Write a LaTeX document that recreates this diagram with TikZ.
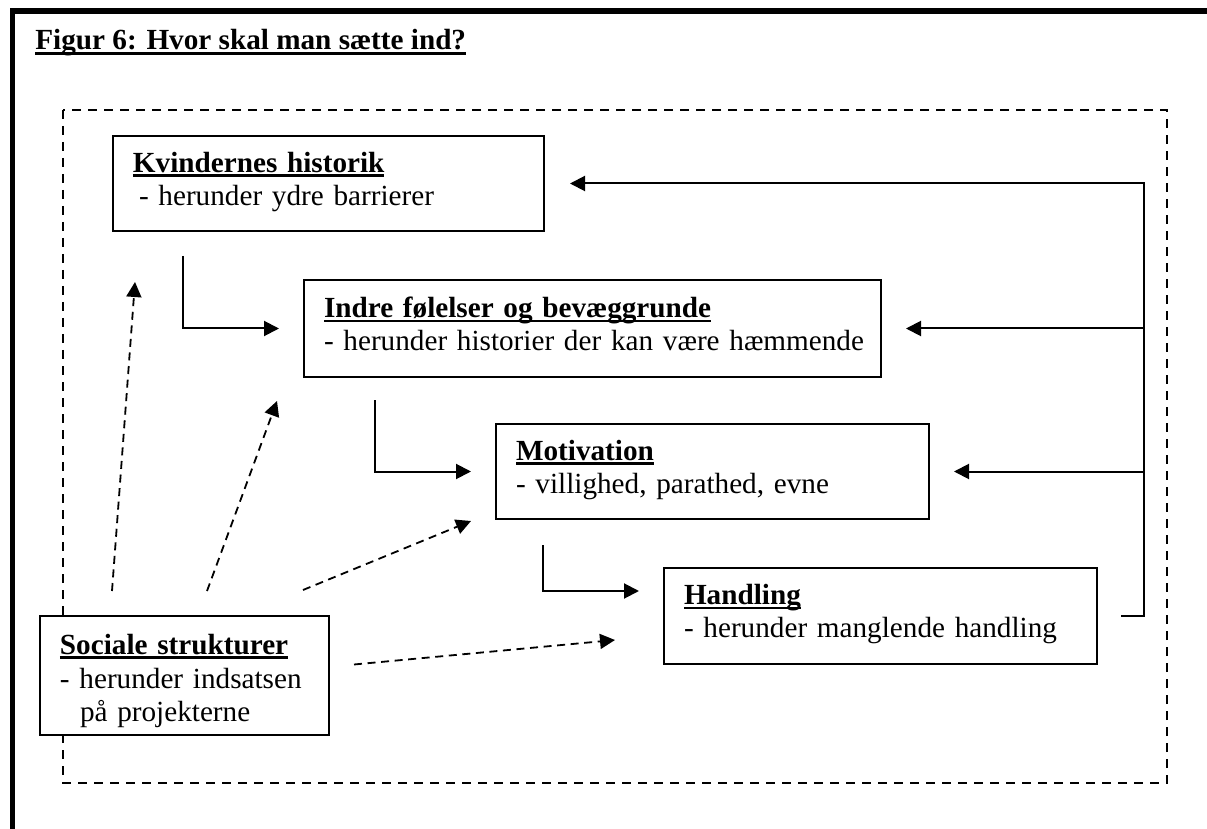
\documentclass[tikz,border=0pt]{standalone}
\usepackage{fontspec}
\setmainfont{Liberation Serif}
\usetikzlibrary{arrows.meta}

\newcommand{\hdr}[1]{\setbox0\hbox{\textbf{#1}}\rlap{\rule[-2.3pt]{\wd0}{1.2pt}}\box0}

\tikzset{
  box/.style={draw, fill=white, line width=1pt, anchor=north west, align=left,
    inner xsep=10pt, inner ysep=0pt, execute at end node=\strut},
  flow/.style={line width=1pt, -{Triangle[length=7.5pt,width=7.5pt]}},
  infl/.style={line width=0.9pt, dash pattern=on 4pt off 2.8pt,
    -{Triangle[length=7.5pt,width=7.5pt]}},
}

\begin{document}
\begin{tikzpicture}[x=0.5pt, y=-0.5pt, font=\fontsize{14.6}{16.5}\selectfont] % where to intervene
\useasboundingbox (0,0) rectangle (1207,829);
\draw[line width=2.8pt] (12.5,829) -- (12.5,11) -- (1207,11);
\node[anchor=base west, inner sep=0pt] (title) at (35,50) {\hdr{Figur 6: Hvor skal man sætte ind?}};
\draw[line width=1pt, dash pattern=on 4.5pt off 3.5pt] (63,110) rectangle (1167,783);

\node[box, text width=195.5pt, minimum height=47.5pt] (kv) at (112,135)
  {\hdr{Kvindernes historik}\\\hspace*{3pt}- herunder ydre barrierer};
\node[box, text width=268.5pt, minimum height=48.5pt] (indre) at (303,279)
  {\hdr{Indre følelser og bevæggrunde}\\\mbox{- herunder historier der kan være hæmmende}};
\node[box, text width=196.5pt, minimum height=47.5pt] (mot) at (495,423)
  {\hdr{Motivation}\\- villighed, parathed, evne};
\node[box, text width=196.5pt, minimum height=48pt] (hand) at (663,567)
  {\hdr{Handling}\\- herunder manglende handling};
\node[box, text width=124.5pt, minimum height=59.5pt] (soc) at (39,615)
  {\hdr{Sociale strukturer}\rule{0pt}{17pt}\\[0.5pt]- herunder indsatsen\\\hspace*{10pt}på projekterne};

\draw[flow] ([shift={(71,24)}]kv.south west) |- ([shift={(-24,0)}]indre.west);
\draw[flow] ([shift={(72,22)}]indre.south west) |- ([shift={(-24,0)}]mot.west);
\draw[flow] ([shift={(48,25)}]mot.south west) |- ([shift={(-24,-25)}]hand.west);

\coordinate (bus) at (1144,614);
\draw[flow] ([shift={(23,0)}]hand.east) -| (bus |- kv.east) -- ([shift={(25,0)}]kv.east);
\draw[flow] (bus |- indre.east) -- ([shift={(24,0)}]indre.east);
\draw[flow] (bus |- mot.east) -- ([shift={(24,0)}]mot.east);

\draw[infl] ([shift={(73,-24)}]soc.north west) -- ([shift={(23,50)}]kv.south west);
\draw[infl] ([shift={(168,-24)}]soc.north west) -- ([shift={(-26,23)}]indre.south west);
\draw[infl] ([shift={(264,-25)}]soc.north west) -- ([shift={(-24,1)}]mot.south west);
\draw[infl] ([shift={(24,-11)}]soc.east) -- ([shift={(-48,24)}]hand.west);
\end{tikzpicture}
\end{document}
